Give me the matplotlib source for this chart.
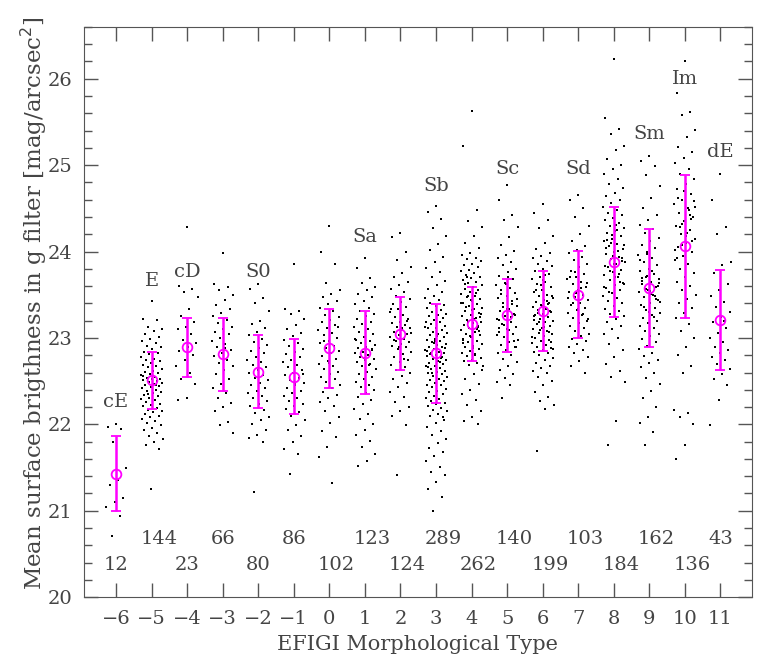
import numpy as np
import matplotlib.pyplot as plt
from matplotlib.ticker import MultipleLocator

# EFIGI morphological types and their labels
types = list(range(-6, 12))
names = ['cE', 'E', 'cD', '', 'S0', '', '', 'Sa', '', 'Sb', '', 'Sc', '', 'Sd', '', 'Sm', 'Im', 'dE']
name_y = [22.26, 23.66, 23.76, 0, 23.76, 0, 0, 24.17, 0, 24.76, 0, 24.96, 0, 24.96, 0, 25.36, 26.0, 25.15]
counts = [12, 144, 23, 66, 80, 86, 102, 123, 124, 289, 262, 140, 199, 103, 184, 162, 136, 43]

# mean surface brightness and dispersion per type
means = [21.43, 22.51, 22.89, 22.81, 22.61, 22.55, 22.88, 22.83, 23.05, 22.82,
         23.16, 23.26, 23.31, 23.50, 23.88, 23.58, 24.06, 23.21]
sigmas = [0.435, 0.33, 0.345, 0.425, 0.425, 0.435, 0.455, 0.48, 0.42, 0.57,
          0.43, 0.425, 0.46, 0.505, 0.64, 0.685, 0.83, 0.58]

# individual galaxies (a subsample of each column)
yv_m6 = [22.00, 21.97, 21.95, 21.80, 21.50, 21.36, 21.30, 21.15, 21.10, 21.04, 20.94, 20.71]
yv_m5 = [23.43, 23.22, 23.21, 23.13, 23.10, 23.08, 23.04, 23.01, 22.99, 22.96, 22.94, 22.91, 22.89, 22.87,
         22.84, 22.82, 22.81, 22.78, 22.76, 22.74, 22.73, 22.71, 22.69, 22.67, 22.66, 22.64, 22.62, 22.61,
         22.59, 22.58, 22.57, 22.55, 22.54, 22.53, 22.52, 22.51, 22.50, 22.49, 22.48, 22.47, 22.46, 22.44,
         22.43, 22.42, 22.40, 22.39, 22.37, 22.36, 22.34, 22.33, 22.31, 22.29, 22.28, 22.26, 22.24, 22.22,
         22.21, 22.19, 22.17, 22.15, 22.14, 22.12, 22.10, 22.08, 22.06, 22.04, 22.02, 21.99, 21.96, 21.93,
         21.90, 21.86, 21.83, 21.80, 21.76, 21.71, 21.25, 22.56, 22.45, 22.35]
yv_m4 = [24.28, 23.60, 23.57, 23.53, 23.47, 23.33, 23.25, 23.19, 23.13, 23.10, 23.05, 22.98, 22.94, 22.90,
         22.85, 22.80, 22.75, 22.68, 22.60, 22.52, 22.47, 22.31, 22.28]
yv_m3 = [23.98, 23.62, 23.59, 23.55, 23.50, 23.44, 23.38, 23.33, 23.29, 23.25, 23.21, 23.17, 23.13, 23.10,
         23.07, 23.04, 23.00, 22.97, 22.93, 22.90, 22.86, 22.83, 22.79, 22.75, 22.71, 22.67, 22.63, 22.58,
         22.53, 22.47, 22.42, 22.36, 22.30, 22.25, 22.20, 22.15, 22.03, 21.99, 21.90, 22.88]
yv_m2 = [23.62, 23.57, 23.46, 23.40, 23.31, 23.20, 23.16, 23.11, 23.07, 23.03, 22.99, 22.95, 22.92, 22.88,
         22.85, 22.82, 22.78, 22.75, 22.72, 22.69, 22.66, 22.63, 22.60, 22.57, 22.54, 22.51, 22.48, 22.45,
         22.42, 22.39, 22.36, 22.33, 22.30, 22.27, 22.24, 22.21, 22.17, 22.13, 22.09, 22.05, 22.00, 21.94,
         21.88, 21.84, 21.80, 21.22]
yv_m1 = [23.85, 23.34, 23.31, 23.28, 23.22, 23.15, 23.10, 23.06, 23.02, 22.98, 22.94, 22.91, 22.87, 22.84,
         22.81, 22.78, 22.75, 22.72, 22.69, 22.66, 22.63, 22.60, 22.57, 22.54, 22.51, 22.48, 22.45, 22.42,
         22.39, 22.36, 22.33, 22.30, 22.27, 22.24, 22.21, 22.18, 22.14, 22.10, 22.05, 21.99, 21.93, 21.87,
         21.80, 21.72, 21.66, 21.42, 22.58, 22.47]
yv_0 = [24.30, 24.00, 23.85, 23.63, 23.55, 23.51, 23.47, 23.43, 23.39, 23.35, 23.31, 23.27, 23.24, 23.21,
        23.18, 23.15, 23.12, 23.09, 23.06, 23.03, 23.00, 22.97, 22.94, 22.91, 22.88, 22.85, 22.82, 22.79,
        22.76, 22.73, 22.70, 22.67, 22.64, 22.61, 22.58, 22.55, 22.52, 22.49, 22.46, 22.42, 22.38, 22.34,
        22.30, 22.26, 22.21, 22.15, 22.08, 22.01, 21.92, 21.85, 21.74, 21.62, 21.32, 22.96, 23.13, 22.71]
yv_1 = [23.93, 23.81, 23.69, 23.63, 23.59, 23.55, 23.51, 23.47, 23.43, 23.39, 23.35, 23.31, 23.28, 23.25,
        23.22, 23.19, 23.16, 23.13, 23.10, 23.07, 23.04, 23.01, 22.98, 22.96, 22.94, 22.92, 22.90, 22.88,
        22.86, 22.84, 22.82, 22.80, 22.78, 22.76, 22.74, 22.72, 22.70, 22.67, 22.64, 22.61, 22.58, 22.55,
        22.52, 22.49, 22.46, 22.43, 22.40, 22.36, 22.32, 22.28, 22.23, 22.18, 22.12, 22.06, 22.00, 21.94,
        21.88, 21.81, 21.74, 21.66, 21.58, 21.52, 22.87, 22.77, 22.99, 22.69]
yv_2 = [24.21, 24.17, 23.99, 23.90, 23.82, 23.75, 23.70, 23.65, 23.61, 23.57, 23.53, 23.49, 23.45, 23.42,
        23.39, 23.36, 23.33, 23.30, 23.27, 23.24, 23.22, 23.19, 23.17, 23.15, 23.13, 23.11, 23.09, 23.07,
        23.05, 23.03, 23.01, 22.99, 22.97, 22.95, 22.93, 22.91, 22.89, 22.87, 22.84, 22.81, 22.78, 22.75,
        22.72, 22.69, 22.66, 22.63, 22.60, 22.56, 22.52, 22.48, 22.43, 22.38, 22.32, 22.26, 22.20, 22.16,
        22.10, 21.99, 21.41, 23.06, 23.12, 22.98, 23.20, 22.90, 23.34, 22.76]
yv_3 = [24.53, 24.46, 24.38, 24.27, 24.18, 24.09, 24.02, 23.94, 23.88, 23.81, 23.76, 23.71, 23.66, 23.61,
        23.57, 23.53, 23.49, 23.46, 23.44, 23.41, 23.38, 23.37, 23.35, 23.32, 23.30, 23.28, 23.27, 23.25,
        23.23, 23.21, 23.19, 23.18, 23.16, 23.14, 23.12, 23.11, 23.09, 23.07, 23.06, 23.04, 23.03, 23.01,
        22.99, 22.98, 22.96, 22.95, 22.93, 22.92, 22.90, 22.89, 22.87, 22.86, 22.84, 22.83, 22.82, 22.80,
        22.79, 22.77, 22.76, 22.74, 22.73, 22.71, 22.70, 22.68, 22.67, 22.65, 22.64, 22.62, 22.61, 22.59,
        22.58, 22.56, 22.55, 22.53, 22.51, 22.50, 22.48, 22.46, 22.45, 22.43, 22.41, 22.39, 22.37, 22.35,
        22.33, 22.31, 22.29, 22.27, 22.25, 22.23, 22.21, 22.19, 22.17, 22.15, 22.12, 22.10, 22.08, 22.97,
        22.85, 22.72, 22.60, 22.88, 23.02, 22.66, 22.78, 22.94, 23.13, 22.52, 22.81, 22.05, 22.01, 21.97,
        21.92, 21.88, 21.83, 21.78, 21.73, 21.68, 21.63, 21.58, 21.51, 21.45, 21.41, 21.33, 21.25, 21.16,
        21.00]
yv_4 = [25.63, 25.22, 24.48, 24.35, 24.28, 24.18, 24.10, 24.04, 23.98, 23.96, 23.93, 23.91, 23.89, 23.86,
        23.84, 23.82, 23.79, 23.77, 23.75, 23.73, 23.71, 23.69, 23.67, 23.65, 23.63, 23.61, 23.59, 23.57,
        23.55, 23.53, 23.51, 23.49, 23.47, 23.45, 23.43, 23.41, 23.39, 23.37, 23.35, 23.33, 23.31, 23.29,
        23.27, 23.25, 23.23, 23.21, 23.19, 23.17, 23.15, 23.13, 23.11, 23.09, 23.07, 23.05, 23.03, 23.01,
        22.99, 22.97, 22.95, 22.93, 22.91, 22.89, 22.87, 22.85, 22.83, 22.81, 22.79, 22.77, 22.75, 22.73,
        22.71, 22.69, 22.67, 23.22, 23.36, 23.08, 23.44, 22.98, 23.52, 23.18, 23.28, 22.88, 23.62, 23.14,
        23.02, 23.40, 22.80, 23.70, 23.24, 23.32, 22.94, 23.10, 23.48, 22.63, 22.58, 22.52, 22.47, 22.40,
        22.35, 22.28, 22.22, 22.15, 22.08, 22.04, 22.00]
yv_5 = [24.77, 24.60, 24.42, 24.36, 24.28, 24.17, 24.08, 24.01, 23.96, 23.92, 23.88, 23.84, 23.80, 23.76,
        23.72, 23.68, 23.64, 23.61, 23.58, 23.55, 23.52, 23.49, 23.46, 23.43, 23.40, 23.37, 23.34, 23.31,
        23.28, 23.25, 23.22, 23.19, 23.16, 23.13, 23.10, 23.07, 23.04, 23.01, 22.98, 22.95, 22.92, 22.89,
        22.86, 22.83, 22.80, 22.76, 22.72, 22.68, 22.63, 22.58, 22.54, 22.49, 22.45, 22.30, 23.27, 23.33,
        23.21, 23.39, 23.15, 23.45, 23.09, 23.51, 22.97, 23.62, 23.03, 23.24, 23.36, 22.90, 23.70, 23.12]
yv_6 = [24.55, 24.45, 24.36, 24.27, 24.18, 24.10, 24.03, 23.98, 23.95, 23.92, 23.89, 23.86, 23.83, 23.80,
        23.77, 23.74, 23.71, 23.68, 23.65, 23.62, 23.59, 23.56, 23.53, 23.50, 23.48, 23.46, 23.44, 23.42,
        23.40, 23.38, 23.36, 23.34, 23.32, 23.30, 23.28, 23.26, 23.24, 23.22, 23.20, 23.18, 23.16, 23.14,
        23.12, 23.10, 23.08, 23.06, 23.04, 23.02, 23.00, 22.98, 22.96, 22.94, 22.92, 22.90, 22.88, 22.86,
        22.84, 22.82, 22.80, 22.77, 22.74, 22.71, 22.68, 22.65, 22.62, 22.59, 22.55, 22.50, 22.45, 22.38,
        22.32, 22.27, 22.22, 22.18, 21.69, 23.31, 23.37, 23.25, 23.43, 23.19, 23.49, 23.13, 23.55, 23.07,
        23.61, 23.01, 23.33, 23.29, 22.95, 23.67, 23.21, 23.39, 23.09, 22.87, 23.73]
yv_7 = [24.65, 24.60, 24.50, 24.40, 24.30, 24.20, 24.12, 24.06, 24.02, 23.98, 23.94, 23.90, 23.86, 23.82,
        23.78, 23.74, 23.71, 23.68, 23.65, 23.62, 23.59, 23.56, 23.53, 23.50, 23.47, 23.44, 23.41, 23.38,
        23.35, 23.32, 23.29, 23.26, 23.23, 23.20, 23.17, 23.14, 23.11, 23.08, 23.05, 23.02, 22.99, 22.96,
        22.93, 22.90, 22.86, 22.82, 22.78, 22.73, 22.68, 22.60, 23.52, 23.46, 23.58, 23.40, 23.64, 23.34,
        23.70, 23.28, 23.76, 23.22]
yv_8 = [26.23, 25.55, 25.42, 25.36, 25.22, 25.18, 25.07, 25.00, 24.95, 24.90, 24.84, 24.78, 24.73, 24.68,
        24.64, 24.60, 24.56, 24.52, 24.48, 24.45, 24.42, 24.39, 24.36, 24.33, 24.30, 24.27, 24.24, 24.21,
        24.18, 24.15, 24.12, 24.09, 24.06, 24.03, 24.00, 23.97, 23.94, 23.91, 23.88, 23.85, 23.82, 23.79,
        23.76, 23.73, 23.70, 23.67, 23.64, 23.61, 23.58, 23.55, 23.52, 23.49, 23.46, 23.43, 23.40, 23.37,
        23.34, 23.31, 23.28, 23.25, 23.22, 23.18, 23.14, 23.10, 23.05, 23.00, 22.93, 22.86, 22.78, 22.70,
        22.62, 22.55, 22.49, 22.04, 21.76, 23.89, 23.95, 23.83, 24.01, 23.77, 24.07, 23.71, 24.13, 23.65,
        24.19, 23.59, 24.25, 23.53, 23.92, 23.86, 24.04, 23.74, 24.10, 23.62, 24.31]
yv_9 = [25.10, 25.05, 24.99, 24.88, 24.76, 24.62, 24.50, 24.42, 24.36, 24.31, 24.26, 24.21, 24.16, 24.12,
        24.08, 24.04, 24.00, 23.96, 23.92, 23.88, 23.84, 23.80, 23.77, 23.74, 23.71, 23.68, 23.65, 23.62,
        23.59, 23.56, 23.53, 23.50, 23.47, 23.44, 23.41, 23.38, 23.35, 23.32, 23.29, 23.26, 23.23, 23.20,
        23.17, 23.14, 23.11, 23.08, 23.05, 23.02, 22.99, 22.95, 22.91, 22.87, 22.83, 22.79, 22.75, 22.71,
        22.66, 22.60, 22.54, 22.47, 22.39, 22.31, 22.20, 22.09, 22.01, 21.91, 21.76, 23.60, 23.54, 23.66,
        23.48, 23.72, 23.42, 23.78, 23.36, 23.84, 23.30, 23.90, 23.24, 23.57, 23.63, 23.51, 23.69, 23.45,
        23.97]
yv_10 = [26.21, 25.83, 25.62, 25.58, 25.41, 25.32, 25.21, 25.15, 25.08, 25.02, 24.96, 24.90, 24.84, 24.78,
         24.72, 24.66, 24.60, 24.55, 24.50, 24.45, 24.40, 24.35, 24.30, 24.25, 24.20, 24.15, 24.10, 24.05,
         24.00, 23.95, 23.90, 23.85, 23.80, 23.75, 23.70, 23.65, 23.60, 23.55, 23.50, 23.45, 23.40, 23.35,
         23.29, 23.23, 23.16, 23.08, 23.00, 22.90, 22.80, 22.68, 22.60, 22.17, 22.13, 22.08, 22.00, 21.76,
         21.60, 24.42, 24.32, 24.52, 24.22, 24.62, 24.12, 24.70, 24.02, 24.48, 24.28, 24.58, 24.18, 23.92,
         24.38, 24.08]
yv_11 = [24.90, 24.60, 24.28, 24.20, 23.88, 23.84, 23.75, 23.62, 23.55, 23.48, 23.42, 23.36, 23.30, 23.24,
         23.18, 23.12, 23.06, 23.00, 22.95, 22.90, 22.86, 22.82, 22.78, 22.74, 22.70, 22.64, 22.58, 22.52,
         22.45, 22.28, 21.99, 23.20]

clouds = [yv_m6, yv_m5, yv_m4, yv_m3, yv_m2, yv_m1, yv_0, yv_1, yv_2, yv_3,
          yv_4, yv_5, yv_6, yv_7, yv_8, yv_9, yv_10, yv_11]

plt.rcParams['font.family'] = 'DejaVu Serif'
plt.rcParams['font.size'] = 14
txt = '#444444'
magenta = '#ff00ff'

fig = plt.figure(figsize=(7.64, 6.71), dpi=100)
ax = fig.add_axes([0.110, 0.110, 0.874, 0.850])

# scatter each column with a small horizontal spread
for t, yv in zip(types, clouds):
    n = len(yv)
    dx = ((np.arange(n) * 0.618034 + 0.5) % 1.0 - 0.5) * 0.62
    ax.scatter(t + dx, yv, s=4.5, marker='s', c='k', linewidths=0, zorder=2)

ax.errorbar(types, means, yerr=sigmas, fmt='o', mfc='none', mec=magenta, ecolor=magenta,
            ms=7, mew=1.3, elinewidth=1.8, capsize=3.5, capthick=1.8, zorder=3)

for t, nm, yy in zip(types, names, name_y):
    if nm:
        ax.text(t, yy, nm, ha='center', va='center', color=txt)

for t, c in zip(types, counts):
    s = str(c)
    yy = 20.67 if t % 2 else 20.37
    ax.text(t + 0.1 * (len(s) - 2) * 2, yy, s, ha='center', va='center', color=txt)

ax.set_xlim(-6.9, 11.88)
ax.set_ylim(20, 26.6)
ax.set_xticks(types)
ax.yaxis.set_major_locator(MultipleLocator(1))
ax.yaxis.set_minor_locator(MultipleLocator(0.2))
ax.tick_params(which='both', direction='in', top=True, right=True, colors='#555555',
               labelcolor=txt)
ax.tick_params(which='major', length=10, width=1)
ax.tick_params(which='minor', length=6, width=1)
ax.tick_params(axis='x', pad=9)
ax.tick_params(axis='y', pad=8)
for sp in ax.spines.values():
    sp.set_color('#555555')

ax.set_xlabel('EFIGI Morphological Type', color=txt, fontsize=15)
ax.xaxis.set_label_coords(0.5, -0.066)
ax.set_ylabel('Mean surface brigthness in g filter [mag/arcsec$^2$]', color=txt, fontsize=16.5)
ax.yaxis.set_label_coords(-0.052, 0.515)

fig.savefig('out.png', dpi=100)
